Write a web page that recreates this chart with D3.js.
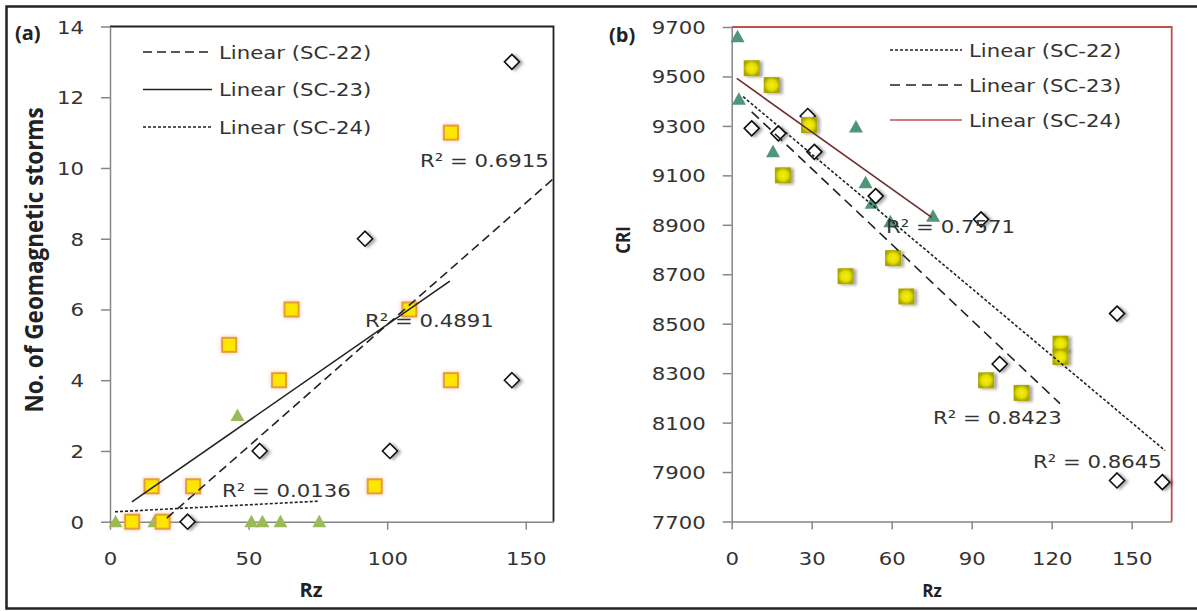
<!DOCTYPE html>
<html>
<head>
<meta charset="utf-8">
<script src="https://cdn.jsdelivr.net/npm/d3@7"></script>
<style>
  body { margin: 0; background: #fff; }
  svg text { font-family: "DejaVu Sans", sans-serif; fill: #333; }
  svg .bold { font-family: "Open Sans", sans-serif; font-weight: bold; fill: #222; }
</style>
</head>
<body>
<div id="chart"></div>
<script>
// ---- values ----

// (a) No. of geomagnetic storms vs Rz
var aRz22 = [28, 54, 92, 101, 145, 145];
var aStorms22 = [0, 2, 8, 2, 4, 13];
var aRz23 = [8, 19, 15, 30, 43, 61, 65.5, 95.5, 108, 123, 123];
var aStorms23 = [0, 0, 1, 1, 5, 4, 6, 1, 6, 4, 11];
var aRz24 = [2, 16, 46, 51, 55, 61.5, 75.5];
var aStorms24 = [0, 0, 3, 0, 0, 0, 0];

// (a) linear trend lines, end points (SC-22, SC-23, SC-24)
var aTrendX0 = [20.5, 7.9, 1.8];
var aTrendY0 = [0.1, 0.56, 0.28];
var aTrendX1 = [160, 122.6, 75];
var aTrendY1 = [9.7, 6.8, 0.58];
var aR2 = ["0.6915", "0.4891", "0.0136"];

// (b) CRI vs Rz
var bRz22 = [7.5, 17.5, 28.5, 31, 54, 93.5, 100.5, 144.5, 144.5, 161.5];
var bCri22 = [9290, 9270, 9340, 9195, 9016, 8922, 8337, 8541, 7866, 7859];
var bRz23 = [7.5, 15, 29, 19.2, 42.7, 60.5, 65.5, 95.4, 108.7, 123.3, 123.3];
var bCri23 = [9533, 9465, 9303, 9100, 8692, 8765, 8610, 8271, 8220, 8419, 8365];
var bRz24 = [2.2, 2.7, 15.5, 46.6, 50.2, 52.5, 59.5, 75.5];
var bCri24 = [9661, 9408, 9195, 9296, 9070, 8987, 8912, 8935];

// (b) linear trend lines, end points (SC-22, SC-23, SC-24)
var bTrendX0 = [4.3, 7.5, 1.9];
var bTrendY0 = [9418, 9357, 9492];
var bTrendX1 = [162.5, 123.1, 75];
var bTrendY1 = [7987, 8177, 8930];
var bR2 = ["0.8645", "0.8423", "0.7571"];

var trendNames = ["Linear (SC-22)", "Linear (SC-23)", "Linear (SC-24)"];
var aTicksX = [0, 50, 100, 150];
var aTicksY = [0, 2, 4, 6, 8, 10, 12, 14];
var bTicksX = [0, 30, 60, 90, 120, 150];
var bTicksY = [7700, 7900, 8100, 8300, 8500, 8700, 8900, 9100, 9300, 9500, 9700];

var SX = 1.18; // the scan is a bit wider than tall
var FS = 18;

var svg = d3.select("#chart").append("svg")
    .attr("width", 1197)
    .attr("height", 611);

var defs = svg.append("defs");
defs.append("filter").attr("id", "shadow")
    .attr("x", "-50%").attr("y", "-50%").attr("width", "200%").attr("height", "200%")
  .append("feDropShadow")
    .attr("dx", 3).attr("dy", 1).attr("stdDeviation", 1.6)
    .attr("flood-color", "#000").attr("flood-opacity", 0.35);
defs.append("filter").attr("id", "glow")
    .attr("x", "-50%").attr("y", "-50%").attr("width", "200%").attr("height", "200%")
  .append("feDropShadow")
    .attr("dx", 0).attr("dy", 0).attr("stdDeviation", 2)
    .attr("flood-color", "#f09a70").attr("flood-opacity", 0.6);
var grad = defs.append("radialGradient").attr("id", "bevel");
grad.append("stop").attr("offset", "0%").attr("stop-color", "#f2ee10");
grad.append("stop").attr("offset", "60%").attr("stop-color", "#e4e000");
grad.append("stop").attr("offset", "100%").attr("stop-color", "#a9a400");

// outer frame of the figure
svg.append("path")
    .attr("d", "M1197,6.5H6.5V608.5H1197")
    .attr("fill", "none")
    .attr("stroke", "#222")
    .attr("stroke-width", 2.5);

function zip(xs, ys) {
  return xs.map(function(v, i) { return {x: v, y: ys[i]}; });
}

function placeText(sel, x, y) {
  return sel.attr("transform", "translate(" + x + "," + y + ") scale(" + SX + ",1)");
}

var markers = {
  diamond: function(g) {
    g.append("path").attr("d", "M0,-7.5L7.5,0L0,7.5L-7.5,0Z")
      .attr("fill", "#fff").attr("stroke", "#111").attr("stroke-width", 1.6)
      .attr("filter", "url(#shadow)");
  },
  squareA: function(g) {
    g.append("rect").attr("x", -7).attr("y", -7).attr("width", 14).attr("height", 14)
      .attr("fill", "#ffe600").attr("stroke", "#e3a030").attr("stroke-width", 2)
      .attr("filter", "url(#glow)");
  },
  squareB: function(g) {
    g.append("rect").attr("x", -8).attr("y", -8).attr("width", 16).attr("height", 16)
      .attr("fill", "url(#bevel)").attr("filter", "url(#shadow)");
  },
  triA: function(g) {
    g.append("path").attr("d", "M0,-7L7,5.5L-7,5.5Z").attr("fill", "#9bbb59");
  },
  triB: function(g) {
    g.append("path").attr("d", "M0,-7L7,5.5L-7,5.5Z").attr("fill", "#4f957a");
  }
};

function drawPanel(p) {
  var x = d3.scaleLinear().domain(p.xDomain).range([p.left, p.right]);
  var y = d3.scaleLinear().domain(p.yDomain).range([p.bottom, p.top]);

  // top and right edges of the plot area
  svg.append("path")
      .attr("d", "M" + p.left + "," + p.top + "H" + p.right + "V" + p.bottom)
      .attr("fill", "none")
      .attr("stroke", p.frame)
      .attr("stroke-width", 1.8);

  var gx = svg.append("g")
      .attr("transform", "translate(0," + p.bottom + ")")
      .call(d3.axisBottom(x).tickValues(p.xTicks).tickSize(8).tickSizeOuter(0).tickFormat(d3.format("d")));
  var gy = svg.append("g")
      .attr("transform", "translate(" + p.left + ",0)")
      .call(d3.axisLeft(y).tickValues(p.yTicks).tickSize(9).tickSizeOuter(0).tickFormat(d3.format("d")));

  [gx, gy].forEach(function(g) {
    g.attr("font-size", null).attr("font-family", null);
    g.select(".domain").attr("stroke", "#868686").attr("stroke-width", 1.5);
    g.selectAll(".tick line").attr("stroke", "#868686").attr("stroke-width", 1.5);
    g.selectAll(".tick text").attr("fill", "#333").attr("font-size", FS)
      .attr("x", 0).attr("y", 0).attr("dy", null);
  });
  gx.selectAll(".tick text").call(placeText, 0, 43);
  gy.selectAll(".tick text").call(placeText, -26, 6.5);

  // markers
  p.series.forEach(function(s) {
    svg.append("g").selectAll("g")
      .data(zip(s.xs, s.ys))
      .enter()
      .append("g")
        .attr("transform", function(d) { return "translate(" + x(d.x) + "," + y(d.y) + ")"; })
        .each(function() { markers[s.marker](d3.select(this)); });
  });

  // trend lines
  p.trend.x0.forEach(function(v, i) {
    svg.append("line")
        .attr("x1", x(v))
        .attr("y1", y(p.trend.y0[i]))
        .attr("x2", x(p.trend.x1[i]))
        .attr("y2", y(p.trend.y1[i]))
        .attr("stroke", p.styles[i].dataColor || p.styles[i].color)
        .attr("stroke-width", 1.6)
        .attr("stroke-dasharray", p.styles[i].dash);
  });

  // R² labels
  p.r2.forEach(function(v, i) {
    svg.append("text")
        .attr("font-size", FS)
        .text("R² = " + v)
        .call(placeText, x(p.r2At[i][0]), y(p.r2At[i][1]));
  });

  // legend
  trendNames.forEach(function(name, i) {
    var ly = p.legend.y + i * p.legend.step;
    svg.append("line")
        .attr("x1", p.legend.x0).attr("x2", p.legend.x1)
        .attr("y1", ly).attr("y2", ly)
        .attr("stroke", p.styles[i].color)
        .attr("stroke-width", 1.6)
        .attr("stroke-dasharray", p.styles[i].dash);
    svg.append("text")
        .attr("font-size", FS)
        .text(name)
        .call(placeText, p.legend.x1 + 7, ly + 6.5);
  });

  // titles
  svg.append("text").attr("class", "bold")
      .attr("font-size", p.tagSize)
      .attr("x", p.tag[0]).attr("y", p.tag[1])
      .text(p.tagText);
  svg.append("text").attr("class", "bold")
      .attr("font-size", p.labelSize)
      .attr("text-anchor", "middle")
      .attr("x", p.xLabel[0]).attr("y", p.xLabel[1])
      .text("Rz");
  svg.append("text").attr("class", "bold")
      .attr("font-size", p.yLabelSize)
      .attr("text-anchor", "middle")
      .attr("transform", "translate(" + p.yLabel[0] + "," + p.yLabel[1] + ") rotate(-90) scale(1,1.1)")
      .text(p.yLabelText);
}

drawPanel({
  left: 110, right: 553.5, top: 26.5, bottom: 521.7,
  xDomain: [0, 160], yDomain: [0, 14],
  xTicks: aTicksX, yTicks: aTicksY,
  frame: "#222",
  series: [
    {xs: aRz24, ys: aStorms24, marker: "triA"},
    {xs: aRz22, ys: aStorms22, marker: "diamond"},
    {xs: aRz23, ys: aStorms23, marker: "squareA"}
  ],
  trend: {x0: aTrendX0, y0: aTrendY0, x1: aTrendX1, y1: aTrendY1},
  styles: [
    {color: "#222", dash: "9,5"},
    {color: "#222", dash: null},
    {color: "#222", dash: "3,2"}
  ],
  r2: aR2,
  r2At: [[111.8, 10.04], [92, 5.51], [40.4, 0.7]],
  legend: {x0: 143, x1: 212, y: 52, step: 37.5},
  tagText: "(a)", tagSize: 20, tag: [15, 40],
  labelSize: 20, xLabel: [311, 597],
  yLabelSize: 22.5, yLabel: [43, 260], yLabelText: "No. of Geomagnetic storms"
});

drawPanel({
  left: 731.7, right: 1171.7, top: 27, bottom: 521.5,
  xDomain: [0, 165], yDomain: [7700, 9700],
  xTicks: bTicksX, yTicks: bTicksY,
  frame: "#c0504d",
  series: [
    {xs: bRz24, ys: bCri24, marker: "triB"},
    {xs: bRz22, ys: bCri22, marker: "diamond"},
    {xs: bRz23, ys: bCri23, marker: "squareB"}
  ],
  trend: {x0: bTrendX0, y0: bTrendY0, x1: bTrendX1, y1: bTrendY1},
  styles: [
    {color: "#222", dash: "3,2"},
    {color: "#222", dash: "10,6"},
    {color: "#c0504d", dataColor: "#6e2b2b", dash: null}
  ],
  r2: bR2,
  r2At: [[113, 7915], [75.5, 8093], [57.9, 8866]],
  legend: {x0: 890, x1: 962, y: 50, step: 35},
  tagText: "(b)", tagSize: 20, tag: [609, 42],
  labelSize: 17, xLabel: [932, 597],
  yLabelSize: 17, yLabel: [630, 240], yLabelText: "CRI"
});
</script>
</body>
</html>
